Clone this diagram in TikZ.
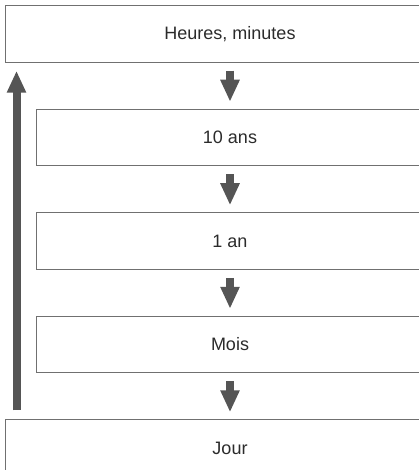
\documentclass[tikz,border=0pt]{standalone}
\usepackage{fontspec}
\setmainfont{Liberation Sans}
\usepackage{tikz}
\usetikzlibrary{arrows.meta,positioning}
\definecolor{boxline}{HTML}{707070}
\definecolor{arrowgray}{HTML}{555555}
\definecolor{textgray}{HTML}{2B2B2B}
\tikzstyle{unit} = [draw=boxline, line width=1pt, minimum height=56.5pt, inner sep=0pt, text=textgray, font=\fontsize{18}{21}\selectfont]
\tikzstyle{wide} = [unit, minimum width=450pt]
\tikzstyle{narrow} = [unit, minimum width=388pt]
\tikzstyle{bigarrow} = [draw=arrowgray, line width=8pt, -{Triangle[width=18pt,length=22pt]}]

\begin{document}
\begin{tikzpicture} [x=1pt, y=1pt, node distance=46pt]

  \useasboundingbox (0,0) rectangle (419,-470);
  \clip (0,0) rectangle (419,-470);

  \node[wide] (heures) at (230,-34) {Heures, minutes};
  \node[narrow, below=of heures] (ans) {10 ans};
  \node[narrow, below=of ans] (an) {1 an};
  \node[narrow, below=of an] (mois) {Mois};
  \node[wide, below=of mois] (jour) {Jour};

  \foreach \a/\b in {heures/ans, ans/an, an/mois, mois/jour}
    \draw[bigarrow, shorten <=8pt, shorten >=7pt] (\a.south) -- (\b.north);

  \draw[bigarrow, shorten <=9pt, shorten >=8pt] ([xshift=12pt]jour.north west) -- ([xshift=12pt]heures.south west);

\end{tikzpicture}
\end{document}
